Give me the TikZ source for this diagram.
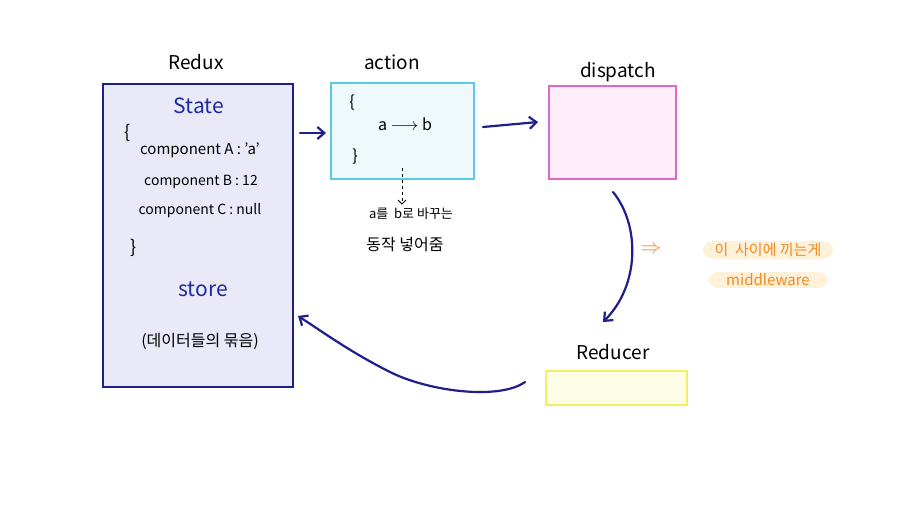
\documentclass[tikz,border=0pt]{standalone}
\usepackage{fontspec}
\setmainfont{Noto Sans CJK KR}
\usetikzlibrary{arrows.meta}
\definecolor{navy}{HTML}{1E1E8C}
\definecolor{statebl}{HTML}{1E2A9E}
\definecolor{lav}{HTML}{E9E9F8}
\definecolor{cyfill}{HTML}{EEF9FC}
\definecolor{cyline}{HTML}{5CC8E2}
\definecolor{pkfill}{HTML}{FDEEFA}
\definecolor{pkline}{HTML}{E266C6}
\definecolor{yefill}{HTML}{FEFDE6}
\definecolor{yeline}{HTML}{F6EC62}
\definecolor{orng}{HTML}{F08A24}
\definecolor{hl}{HTML}{FDF1DA}
\tikzset{
  title/.style={font=\fontsize{19}{21}\selectfont, text=black},
  body/.style={font=\fontsize{14}{16}\selectfont, text=black},
  flow/.style={draw=navy, line width=2.2pt, -{Straight Barb[length=7pt,width=12pt]}, line cap=round},
  hilite/.style={fill=hl, rounded corners=10pt, text=orng, font=\fontsize{15}{17}\selectfont, inner xsep=12pt, inner ysep=2pt}
}
\begin{document}
\begin{tikzpicture}[x=1pt,y=-1pt]
\useasboundingbox[fill=white] (0,0) rectangle (912,516);
% boxes
\node[draw=navy, fill=lav, line width=1.6pt, minimum width=190pt, minimum height=303pt, anchor=north west, inner sep=0] (redux) at (102,83) {};
\node[draw=cyline, fill=cyfill, line width=1.6pt, minimum width=143pt, minimum height=96pt, anchor=north west, inner sep=0] (action) at (330,82) {};
\node[draw=pkline, fill=pkfill, line width=1.6pt, minimum width=127pt, minimum height=93pt, anchor=north west, inner sep=0] (dispatch) at (548,85) {};
\node[draw=yeline, fill=yefill, line width=1.6pt, minimum width=141pt, minimum height=34pt, anchor=north west, inner sep=0] (reducer) at (545,370) {};
% titles
\node[title] (tredux) at (196,62) {Redux};
\node[title] (taction) at (392,62) {action};
\node[title] (tdispatch) at (618,72) {dispatch};
\node[title] (treducer) at (613,352) {Reducer};
% redux contents
\node[title, text=statebl, font=\fontsize{21}{23}\selectfont] (state) at (199,106) {State};
\node[body, font=\fontsize{18}{20}\selectfont] (lb) at (128,133) {\{};
\node[body, font=\fontsize{15}{17}\selectfont] (ca) at (200,150) {component A : 'a'};
\node[body] (cb) at (201,182) {component B : 12};
\node[body] (cc) at (200,211) {component C : null};
\node[body, font=\fontsize{18}{20}\selectfont] (rb) at (134,248) {\}};
\node[title, text=statebl, font=\fontsize{21}{23}\selectfont] (store) at (203,289) {store};
\node[body, font=\fontsize{16}{18}\selectfont] (bundle) at (200,341) {(데이터들의 묶음)};
% action contents
\node[body, font=\fontsize{16}{18}\selectfont] (alb) at (352,103) {\{};
\node[body, font=\fontsize{16}{18}\selectfont] (ab) at (405,124) {a $\longrightarrow$ b};
\node[body, font=\fontsize{16}{18}\selectfont] (arb) at (355,157) {\}};
\node[body, font=\fontsize{13}{15}\selectfont] (desc1) at (411,214) {a를 \ b로 바꾸는};
\node[body, font=\fontsize{16}{18}\selectfont] (desc2) at (405,245) {동작 넣어줌};
\coordinate (dtop) at (402,168);
\draw[dashed, line width=0.8pt, -{Straight Barb[length=4pt,width=8pt]}] (dtop) -- (desc1.north -| dtop);
% orange note
\node[text=orng, font=\fontsize{20}{22}\selectfont] (imp) at (651,250) {$\Rightarrow$};
\node[hilite] (note1) at (768,250) {이 \ 사이에 끼는게};
\node[hilite, inner xsep=18pt] (note2) at (768,280) {middleware};
% connectors
\coordinate (r1) at (300,133);
\draw[flow] (r1) -- ([xshift=-4pt]action.west |- r1);
\coordinate (a1) at (483,127);
\draw[flow] (a1) -- ([xshift=-10pt]dispatch.west |- 0,122);
\coordinate (dbot) at (613,192);
\coordinate (rtop) at (603,322);
\draw[flow] (dbot) .. controls (640,225) and (640,285) .. (rtop);
\coordinate (rleft) at (525,382);
\coordinate (rxarr) at (298,316);
\draw[flow] (rleft) .. controls (500,400) and (430,392) .. (390,372) .. controls (350,352) and (320,330) .. (rxarr);
\end{tikzpicture}
\end{document}
